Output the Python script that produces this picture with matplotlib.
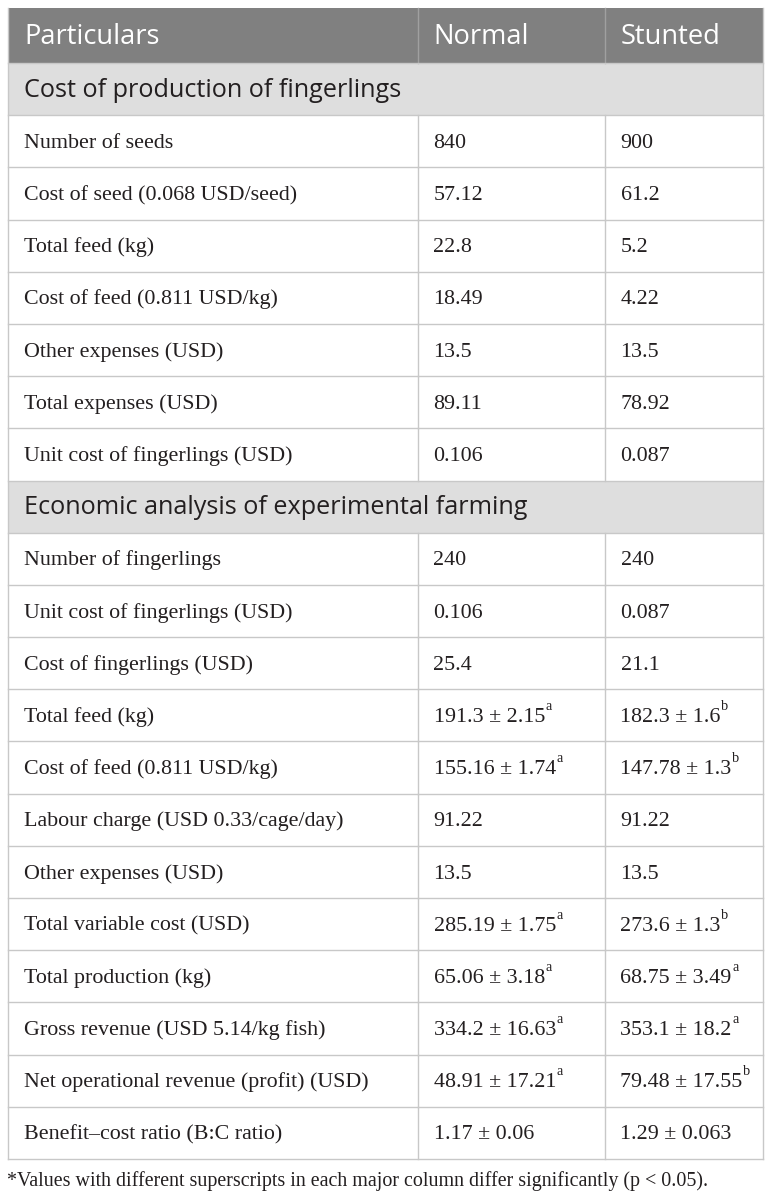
import matplotlib.pyplot as plt

# table content
header = ["Particulars", "Normal", "Stunted"]

section1 = "Cost of production of fingerlings"
rows1 = ["Number of seeds", "Cost of seed (0.068 USD/seed)", "Total feed (kg)",
         "Cost of feed (0.811 USD/kg)", "Other expenses (USD)", "Total expenses (USD)",
         "Unit cost of fingerlings (USD)"]
normal1 = ["840", "57.12", "22.8", "18.49", "13.5", "89.11", "0.106"]
stunted1 = ["900", "61.2", "5.2", "4.22", "13.5", "78.92", "0.087"]

section2 = "Economic analysis of experimental farming"
rows2 = ["Number of fingerlings", "Unit cost of fingerlings (USD)", "Cost of fingerlings (USD)",
         "Total feed (kg)", "Cost of feed (0.811 USD/kg)", "Labour charge (USD 0.33/cage/day)",
         "Other expenses (USD)", "Total variable cost (USD)", "Total production (kg)",
         "Gross revenue (USD 5.14/kg fish)", "Net operational revenue (profit) (USD)",
         "Benefit\u2013cost ratio (B:C ratio)"]
normal2 = ["240", "0.106", "25.4", "191.3 \u00b1 2.15", "155.16 \u00b1 1.74", "91.22", "13.5",
           "285.19 \u00b1 1.75", "65.06 \u00b1 3.18", "334.2 \u00b1 16.63", "48.91 \u00b1 17.21",
           "1.17 \u00b1 0.06"]
normal2_sup = ["", "", "", "a", "a", "", "", "a", "a", "a", "a", ""]
stunted2 = ["240", "0.087", "21.1", "182.3 \u00b1 1.6", "147.78 \u00b1 1.3", "91.22", "13.5",
            "273.6 \u00b1 1.3", "68.75 \u00b1 3.49", "353.1 \u00b1 18.2", "79.48 \u00b1 17.55",
            "1.29 \u00b1 0.063"]
stunted2_sup = ["", "", "", "b", "b", "", "", "b", "a", "a", "b", ""]

footnote = "*Values with different superscripts in each major column differ significantly (p < 0.05)."

W, H = 772, 1199
fig = plt.figure(figsize=(W / 100, H / 100), dpi=100)
ax = fig.add_axes([0, 0, 1, 1])
ax.set_xlim(0, W)
ax.set_ylim(H, 0)
ax.axis('off')

left, c1, c2, right = 8, 417.5, 604.5, 763
top, headh, rowh = 8, 55, 52.19
pad = 16
grid = '#c8c8c8'
ink = '#231f20'
serif = 'Liberation Serif'
sans = 'Open Sans'
fs_body = 15.8
fs_head = 19.6
fs_sec = 18.2
em = fs_body * 100 / 72

renderer = fig.canvas.get_renderer()


def cell_text(x, cy, s, sup=""):
    base = cy + 0.30 * em
    t = ax.text(x, base, s, fontsize=fs_body, family=serif, va='baseline', ha='left', color=ink)
    if sup:
        bb = t.get_window_extent(renderer=renderer)
        xe = ax.transData.inverted().transform((bb.x1, bb.y1))[0]
        ax.text(xe + 0.5, base - 0.55 * em, sup, fontsize=fs_body * 0.65, family=serif,
                va='baseline', ha='left', color=ink)


y = top
# header row
ax.fill_between([left, right], y, y + headh, color='#808080', lw=0)
for x, s in zip([left, c1, c2], header):
    ax.text(x + pad, y + headh / 2 + 1, s, fontsize=fs_head, family=sans, color='white',
            va='center')
ax.plot([c1, c1], [y, y + headh], color='#a0a0a0', lw=1)
ax.plot([c2, c2], [y, y + headh], color='#a0a0a0', lw=1)
y += headh

lines_y = [y]
for sec, names, nv, sv, nsup, ssup in [
        (section1, rows1, normal1, stunted1, [""] * len(rows1), [""] * len(rows1)),
        (section2, rows2, normal2, stunted2, normal2_sup, stunted2_sup)]:
    ax.fill_between([left, right], y, y + rowh, color='#dedede', lw=0)
    ax.text(left + pad, y + rowh / 2 + 1, sec, fontsize=fs_sec, family=sans,
            color=ink, va='center')
    y += rowh
    lines_y.append(y)
    for name, a, b, sa, sb in zip(names, nv, sv, nsup, ssup):
        cy = y + rowh / 2
        cell_text(left + pad, cy, name)
        cell_text(c1 + pad, cy, a, sa)
        cell_text(c2 + pad, cy, b, sb)
        ax.plot([c1, c1], [y, y + rowh], color=grid, lw=1)
        ax.plot([c2, c2], [y, y + rowh], color=grid, lw=1)
        y += rowh
        lines_y.append(y)

for ly in lines_y:
    ax.plot([left, right], [ly, ly], color=grid, lw=1)
ax.plot([left, left], [top, y], color=grid, lw=1)
ax.plot([right, right], [top, y], color=grid, lw=1)

ax.text(left - 1, y + 27, footnote, fontsize=14.4, family=serif, va='baseline', ha='left',
        color=ink)

fig.savefig('out.png', dpi=100)
